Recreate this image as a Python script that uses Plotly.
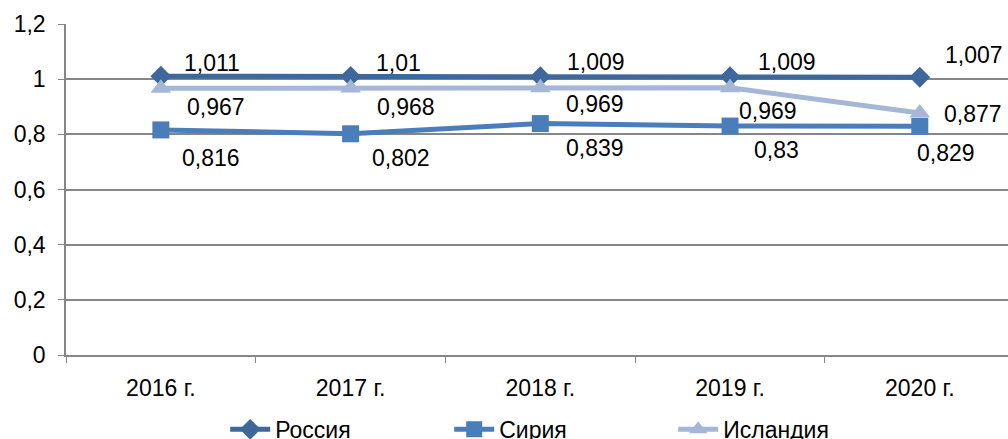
import plotly.graph_objects as go

years = ["2016 г.", "2017 г.", "2018 г.", "2019 г.", "2020 г."]
russia = [1.011, 1.01, 1.009, 1.009, 1.007]
syria = [0.816, 0.802, 0.839, 0.83, 0.829]
iceland = [0.967, 0.968, 0.969, 0.969, 0.877]
y_ticks = [0, 0.2, 0.4, 0.6, 0.8, 1.0, 1.2]
y_tick_text = ["0", "0,2", "0,4", "0,6", "0,8", "1", "1,2"]

FONT = "Liberation Sans, Arial, sans-serif"

series = [
    ("Россия", russia, "#3E679B", "diamond", 16),
    ("Сирия", syria, "#4A7EBB", "square", 17),
    ("Исландия", iceland, "#A5B7D7", "triangle-up", 18),
]

# data label offsets in px relative to the point: (xshift, yshift)
label_offsets = {
    "Россия": [(51, 13), (48, 13), (56, 15), (57, 15), (54, 22)],
    "Сирия": [(50, -28), (50, -24), (55, -24), (46, -24), (26, -27)],
    "Исландия": [(55, -19), (55, -19), (55, -16), (38, -23), (53, -1)],
}

def fmt(v):
    s = ("%.3f" % v).rstrip("0").rstrip(".")
    return s.replace(".", ",")

fig = go.Figure()
for name, vals, color, sym, size in series:
    fig.add_trace(go.Scatter(
        x=years, y=vals, name=name, mode="lines+markers",
        line=dict(color=color, width=5),
        marker=dict(symbol=sym, size=size, color=color),
        cliponaxis=False,
    ))

annotations = []
for name, vals, color, sym, size in series:
    for yr, v, (dx, dy) in zip(years, vals, label_offsets[name]):
        annotations.append(dict(
            x=yr, y=v, text=fmt(v), showarrow=False,
            xshift=dx, yshift=dy,
            font=dict(family=FONT, size=23, color="#000"),
        ))

fig.update_layout(
    width=1008, height=439,
    margin=dict(l=66, r=0, t=24, b=84, autoexpand=False),
    paper_bgcolor="white", plot_bgcolor="white",
    font=dict(family=FONT, size=23, color="#000"),
    showlegend=True,
    legend=dict(orientation="h", x=0.169, xanchor="left",
                yref="container", y=0.022, yanchor="middle",
                font=dict(family=FONT, size=23, color="#000"), itemwidth=40,
                entrywidthmode="pixels", entrywidth=169, bgcolor="rgba(0,0,0,0)"),
    annotations=annotations,
)
fig.update_xaxes(
    type="category", range=[-0.5, 4.465],
    showline=True, linecolor="#868686", linewidth=1.5,
    ticks="outside", tickson="boundaries", ticklen=6, tickcolor="#868686",
    ticklabelstandoff=12,
    showgrid=False, tickfont=dict(family=FONT, size=23), zeroline=False,
)
fig.update_yaxes(
    range=[0, 1.2], tickvals=y_ticks, ticktext=y_tick_text,
    showline=True, linecolor="#868686", linewidth=1.5,
    ticks="outside", ticklen=6, tickcolor="#868686",
    ticklabelstandoff=8,
    showgrid=True, gridcolor="#868686", gridwidth=1.5,
    zeroline=False, tickfont=dict(family=FONT, size=23),
)

fig.write_html("out.html")
